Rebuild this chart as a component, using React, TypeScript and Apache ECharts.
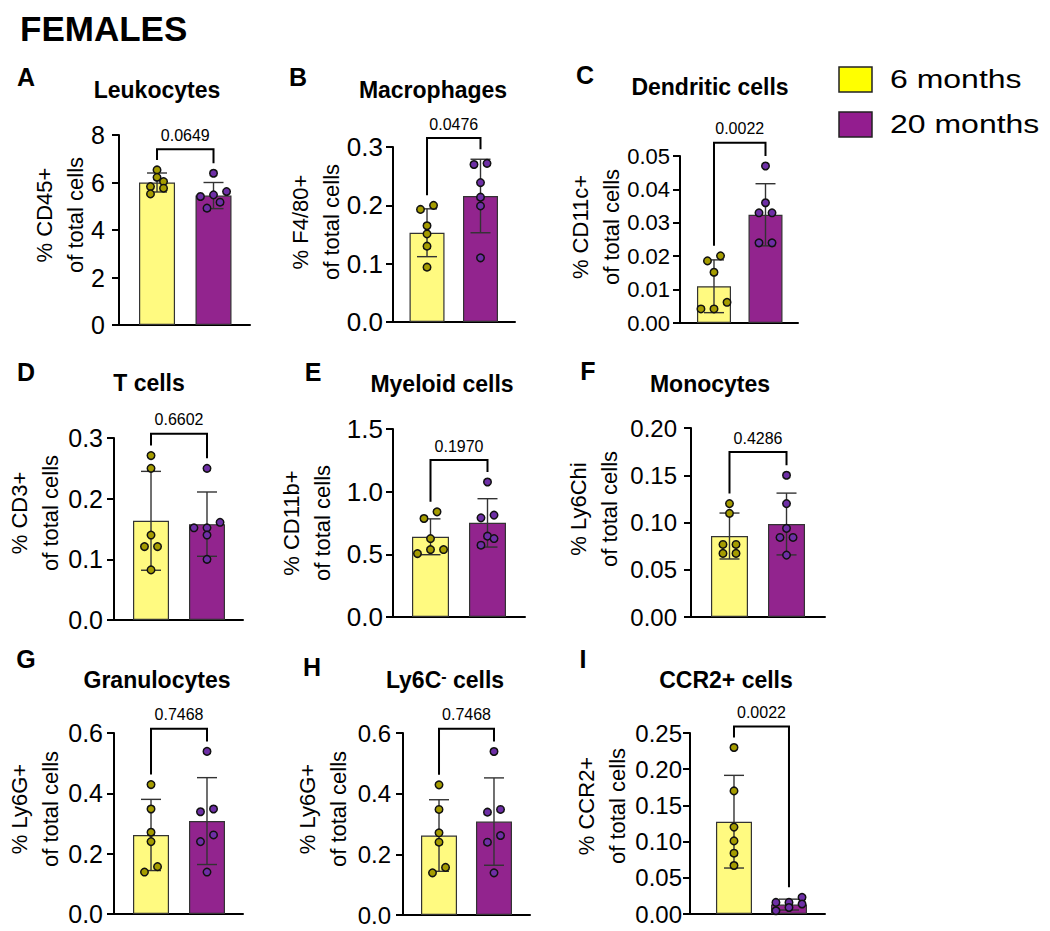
import React, { useEffect, useRef } from "react";
import * as echarts from "echarts";

// ---------- data ----------
const groups = ["6 months", "20 months"];
const panelLetters = ["A", "B", "C", "D", "E", "F", "G", "H", "I"];
const panelTitles = [
  "Leukocytes",
  "Macrophages",
  "Dendritic cells",
  "T cells",
  "Myeloid cells",
  "Monocytes",
  "Granulocytes",
  "Ly6C{sup|-} cells",
  "CCR2+ cells",
];
const yAxisNames = [
  "% CD45+\nof total cells",
  "% F4/80+\nof total cells",
  "% CD11c+\nof total cells",
  "% CD3+\nof total cells",
  "% CD11b+\nof total cells",
  "% Ly6Chi\nof total cells",
  "% Ly6G+\nof total cells",
  "% Ly6G+\nof total cells",
  "% CCR2+\nof total cells",
];
const yMax = [8, 0.3, 0.05, 0.3, 1.5, 0.2, 0.6, 0.6, 0.25];
const yInterval = [2, 0.1, 0.01, 0.1, 0.5, 0.05, 0.2, 0.2, 0.05];
const yDecimals = [0, 1, 2, 1, 1, 2, 1, 1, 2];

const mean6 = [6.0, 0.153, 0.011, 0.1635, 0.64, 0.0857, 0.262, 0.262, 0.1275];
const sd6 = [0.4, 0.041, 0.0079, 0.0815, 0.143, 0.0243, 0.118, 0.118, 0.064];
const mean20 = [5.45, 0.216, 0.0324, 0.158, 0.751, 0.0984, 0.308, 0.308, 0.013];
const sd20 = [0.55, 0.063, 0.0093, 0.053, 0.193, 0.0327, 0.144, 0.144, 0.0075];

const leukocytes6 = [6.53, 6.22, 6.04, 5.83, 5.76, 5.52];
const leukocytes20 = [6.39, 5.62, 5.48, 5.41, 5.17, 4.92];
const macrophages6 = [0.2, 0.193, 0.165, 0.151, 0.13, 0.094];
const macrophages20 = [0.272, 0.27, 0.239, 0.214, 0.199, 0.11];
const dendritic6 = [0.0201, 0.0186, 0.0152, 0.0062, 0.0042, 0.0042];
const dendritic20 = [0.047, 0.036, 0.033, 0.033, 0.024, 0.024];
const tcells6 = [0.271, 0.25, 0.14, 0.121, 0.121, 0.0826];
const tcells20 = [0.25, 0.161, 0.152, 0.152, 0.14, 0.1];
const myeloid6 = [0.839, 0.786, 0.626, 0.538, 0.538, 0.506];
const myeloid20 = [1.077, 0.813, 0.791, 0.645, 0.626, 0.573];
const monocytes6 = [0.12, 0.1097, 0.0768, 0.0768, 0.0673, 0.0673];
const monocytes20 = [0.15, 0.12, 0.0938, 0.0842, 0.0842, 0.0655];
const granulocytes6 = [0.429, 0.348, 0.271, 0.24, 0.157, 0.139];
const granulocytes20 = [0.539, 0.348, 0.339, 0.262, 0.24, 0.139];
const ly6cNeg6 = [0.429, 0.348, 0.271, 0.24, 0.157, 0.139];
const ly6cNeg20 = [0.539, 0.348, 0.339, 0.262, 0.24, 0.139];
const ccr2_6 = [0.23, 0.17, 0.12, 0.101, 0.084, 0.067];
const ccr2_20 = [0.023, 0.016, 0.016, 0.0138, 0.009, 0.0045];

const points6 = [leukocytes6, macrophages6, dendritic6, tcells6, myeloid6, monocytes6, granulocytes6, ly6cNeg6, ccr2_6];
const points20 = [leukocytes20, macrophages20, dendritic20, tcells20, myeloid20, monocytes20, granulocytes20, ly6cNeg20, ccr2_20];

const pValues = ["0.0649", "0.0476", "0.0022", "0.6602", "0.1970", "0.4286", "0.7468", "0.7468", "0.0022"];
const bracketLevels = [7.4, 0.3154, 0.054, 0.307, 1.252, 0.1745, 0.614, 0.614, 0.259];

// ---------- layout / style ----------
const layouts = [
  { left: 119, top: 135, width: 131, height: 190, xMin: -0.673, xMax: 1.646, barW: 36, lab: 25, margin: 14 },
  { left: 393, top: 147, width: 122, height: 175, xMin: -0.636, xMax: 1.645, barW: 35, lab: 26, margin: 10 },
  { left: 680, top: 156, width: 118, height: 167, xMin: -0.66, xMax: 1.631, barW: 34, lab: 22, margin: 10 },
  { left: 114, top: 438, width: 129, height: 182, xMin: -0.661, xMax: 1.643, barW: 36, lab: 25, margin: 11 },
  { left: 393, top: 429, width: 132, height: 188, xMin: -0.658, xMax: 1.658, barW: 37, lab: 26, margin: 10 },
  { left: 691, top: 428, width: 134, height: 189, xMin: -0.675, xMax: 1.675, barW: 37, lab: 24, margin: 14 },
  { left: 114, top: 733, width: 129, height: 181, xMin: -0.661, xMax: 1.643, barW: 36, lab: 25, margin: 11 },
  { left: 403, top: 733, width: 127, height: 182, xMin: -0.655, xMax: 1.655, barW: 36, lab: 24, margin: 12 },
  { left: 690, top: 733, width: 135, height: 181, xMin: -0.8, xMax: 1.655, barW: 36, lab: 24, margin: 8 },
];
const titlePos = [[157, 90], [433, 90], [710, 87], [149, 383], [442, 384], [710, 384], [157, 680], [445, 680], [726, 680]];
const letterPos = [[26, 77], [298, 77], [585, 75], [26, 372], [313, 372], [588, 371], [26, 659], [312, 667], [583, 659]];
const namePos = [[60, 215], [316, 222], [596, 227], [35, 513], [307, 523], [594, 509], [35, 809], [323, 809], [602, 806]];

const FONT = "'Liberation Sans', Arial, Helvetica, sans-serif";
const barColors = ["#FFFA80", "#92248E"];
const dotColors = ["#A59C00", "#6E2FA6"];
const legendColors = ["#FFFF00", "#931D8F"];
const DOT = 7.5;

function swarmOffsets(values: number[], pxPerY: number, pxPerX: number): number[] {
  const D = DOT + 1.5;
  const idx = values.map((_, i) => i).sort((a, b) => values[a] - values[b]);
  const offs = new Array(values.length).fill(0);
  let i = 0;
  while (i < idx.length) {
    const row = [idx[i]];
    const y0 = values[idx[i]] * pxPerY;
    let j = i + 1;
    while (j < idx.length && values[idx[j]] * pxPerY - y0 < D * 0.8) {
      row.push(idx[j]);
      j++;
    }
    row.forEach((k, r) => {
      offs[k] = ((r - (row.length - 1) / 2) * D * 1.45) / pxPerX;
    });
    i = j;
  }
  return offs;
}

function buildOption() {
  const grid: any[] = [];
  const xAxis: any[] = [];
  const yAxis: any[] = [];
  const series: any[] = [];
  const graphic: any[] = [];

  layouts.forEach((L, k) => {
    grid.push({ left: L.left, top: L.top, width: L.width, height: L.height, containLabel: false });
    xAxis.push({
      gridIndex: k,
      type: "value",
      min: L.xMin,
      max: L.xMax,
      axisLine: { show: true, onZero: false, lineStyle: { color: "#000", width: 2 } },
      axisTick: { show: false },
      axisLabel: { show: false },
      splitLine: { show: false },
    });
    yAxis.push({
      gridIndex: k,
      type: "value",
      min: 0,
      max: yMax[k],
      interval: yInterval[k],
      axisLine: { show: true, onZero: false, lineStyle: { color: "#000", width: 2 } },
      axisTick: { show: true, length: 7, lineStyle: { color: "#000", width: 2 } },
      axisLabel: {
        color: "#000",
        fontSize: L.lab,
        fontFamily: FONT,
        margin: L.margin,
        formatter: (v: number) => v.toFixed(yDecimals[k]),
      },
      splitLine: { show: false },
    });

    const means = [mean6[k], mean20[k]];
    const sds = [sd6[k], sd20[k]];
    const pts = [points6[k], points20[k]];
    const pxPerY = L.height / yMax[k];
    const pxPerX = L.width / (L.xMax - L.xMin);

    series.push({
      type: "bar",
      xAxisIndex: k,
      yAxisIndex: k,
      barWidth: L.barW,
      z: 2,
      data: means.map((m, g) => ({
        value: [g, m],
        itemStyle: { color: barColors[g], borderColor: "#333", borderWidth: 1.2 },
      })),
    });

    series.push({
      type: "custom",
      xAxisIndex: k,
      yAxisIndex: k,
      z: 3,
      data: means.map((m, g) => [g, m, sds[g]]),
      renderItem: (params: any, api: any) => {
        const x = api.value(0);
        const m = api.value(1);
        const s = api.value(2);
        const top = api.coord([x, m + s]);
        const bot = api.coord([x, Math.max(m - s, 0)]);
        const cap = 10;
        const st = { stroke: "#333", lineWidth: 1.4 };
        return {
          type: "group",
          children: [
            { type: "line", shape: { x1: top[0], y1: top[1], x2: bot[0], y2: bot[1] }, style: st },
            { type: "line", shape: { x1: top[0] - cap, y1: top[1], x2: top[0] + cap, y2: top[1] }, style: st },
            { type: "line", shape: { x1: bot[0] - cap, y1: bot[1], x2: bot[0] + cap, y2: bot[1] }, style: st },
          ],
        };
      },
    });

    pts.forEach((vals, g) => {
      const offs = swarmOffsets(vals, pxPerY, pxPerX);
      series.push({
        type: "scatter",
        name: groups[g],
        xAxisIndex: k,
        yAxisIndex: k,
        z: 5,
        symbolSize: DOT,
        itemStyle: { color: dotColors[g], borderColor: "#111", borderWidth: 1.5, opacity: 1 },
        data: vals.map((v, i) => [g + offs[i], v]),
      });
    });

    const max0 = Math.max(...pts[0], means[0] + sds[0]);
    const max1 = Math.max(...pts[1], means[1] + sds[1]);
    series.push({
      type: "custom",
      xAxisIndex: k,
      yAxisIndex: k,
      z: 4,
      clip: false,
      data: [[0, 1, bracketLevels[k], max0, max1]],
      renderItem: (params: any, api: any) => {
        const lvl = api.value(2);
        const p0 = api.coord([0, lvl]);
        const p1 = api.coord([1, lvl]);
        const l0 = api.coord([0, api.value(3)])[1] - 10;
        const l1 = api.coord([1, api.value(4)])[1] - 10;
        return {
          type: "group",
          children: [
            {
              type: "polyline",
              shape: { points: [[p0[0], l0], [p0[0], p0[1]], [p1[0], p1[1]], [p1[0], l1]] },
              style: { stroke: "#000", lineWidth: 2, fill: "none" },
            },
            {
              type: "text",
              style: {
                text: pValues[k],
                x: (p0[0] + p1[0]) / 2,
                y: p0[1] - 14,
                textAlign: "center",
                textVerticalAlign: "middle",
                fontSize: 16,
                fontFamily: FONT,
                fill: "#000",
              },
            },
          ],
        };
      },
    });

    graphic.push({
      type: "text",
      x: titlePos[k][0],
      y: titlePos[k][1],
      style: {
        text: panelTitles[k],
        fontSize: 23,
        fontWeight: "bold",
        fontFamily: FONT,
        fill: "#000",
        textAlign: "center",
        textVerticalAlign: "middle",
        rich: { sup: { fontSize: 16, fontWeight: "bold", fontFamily: FONT, verticalAlign: "top", fill: "#000" } },
      },
    });
    graphic.push({
      type: "text",
      x: letterPos[k][0],
      y: letterPos[k][1],
      style: {
        text: panelLetters[k],
        fontSize: 25,
        fontWeight: "bold",
        fontFamily: FONT,
        fill: "#000",
        textAlign: "center",
        textVerticalAlign: "middle",
      },
    });
    graphic.push({
      type: "text",
      x: namePos[k][0],
      y: namePos[k][1],
      rotation: Math.PI / 2,
      style: {
        text: yAxisNames[k],
        fontSize: 22,
        lineHeight: 31,
        fontFamily: FONT,
        fill: "#000",
        textAlign: "center",
        textVerticalAlign: "middle",
      },
    });
  });

  graphic.push({
    type: "text",
    x: 20,
    y: 28,
    style: { text: "FEMALES", fontSize: 35, fontWeight: "bold", fontFamily: FONT, fill: "#000", textVerticalAlign: "middle" },
  });
  groups.forEach((g, i) => {
    const y = i === 0 ? 67 : 112;
    graphic.push({
      type: "rect",
      shape: { x: 839, y, width: 33, height: 25 },
      style: { fill: legendColors[i], stroke: "#222", lineWidth: 1.5 },
    });
    graphic.push({
      type: "text",
      x: 890,
      y: y + 12.5,
      scaleX: 1.28,
      style: { text: g, fontSize: 25, fontFamily: FONT, fill: "#000", textVerticalAlign: "middle" },
    });
  });

  return {
    backgroundColor: "#fff",
    animation: false,
    grid,
    xAxis,
    yAxis,
    series,
    graphic,
  };
}

export default function App() {
  const ref = useRef<HTMLDivElement>(null);
  useEffect(() => {
    if (!ref.current) return;
    const chart = echarts.init(ref.current, undefined, { renderer: "svg" });
    chart.setOption(buildOption() as any);
    return () => chart.dispose();
  }, []);
  return <div ref={ref} style={{ position: "absolute", left: 0, top: 0, width: 1050, height: 931 }} />;
}
